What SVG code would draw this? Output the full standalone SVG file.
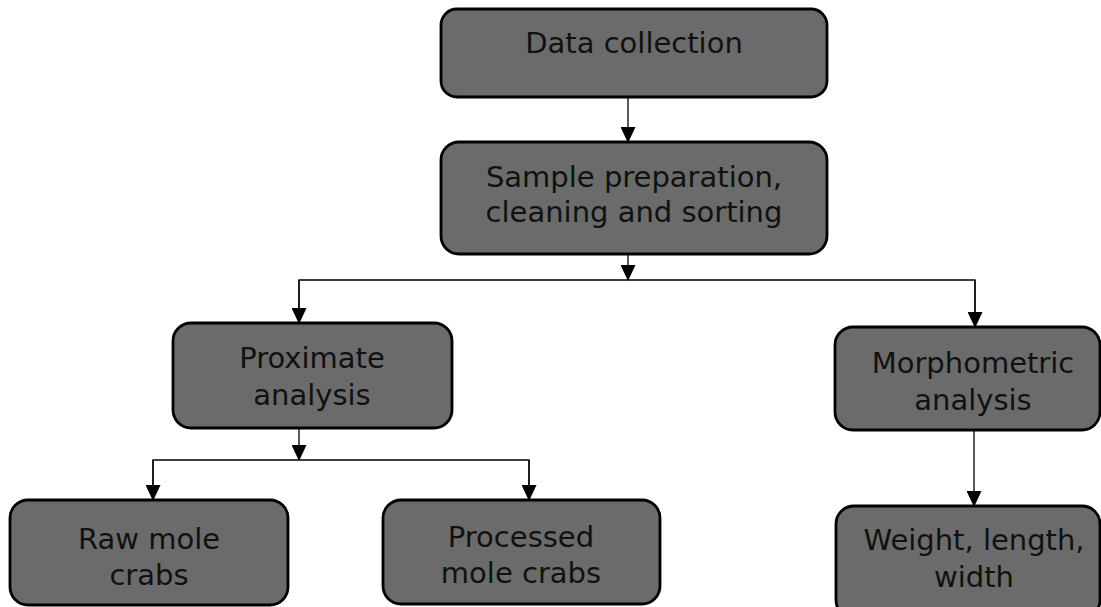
<svg xmlns="http://www.w3.org/2000/svg" width="1101" height="607" viewBox="0 0 1101 607">
<style>
.box{fill:#6b6b6b;stroke:#000;stroke-width:2.8}
.lbl{font-family:"DejaVu Sans",Verdana,sans-serif;font-size:29px;fill:#111;text-anchor:middle}
.con{fill:none;stroke:#000;stroke-width:1.3}
</style>
<defs>
<marker id="ah" markerUnits="userSpaceOnUse" markerWidth="16" markerHeight="15" refX="15" refY="7.5" orient="auto" viewBox="0 0 16 15">
<path d="M0,0 L16,7.5 L0,15 Z" fill="#000"/>
</marker>
</defs>
<rect width="1101" height="607" fill="#fff"/>
<g id="connectors">
<line class="con" x1="628" y1="97" x2="628" y2="142" marker-end="url(#ah)"/>
<line class="con" x1="628" y1="255" x2="628" y2="280" marker-end="url(#ah)"/>
<polyline class="con" points="299,323 299,280 975,280 975,327"/>
<line class="con" x1="299" y1="280" x2="299" y2="323" marker-end="url(#ah)"/>
<line class="con" x1="975" y1="280" x2="975" y2="327" marker-end="url(#ah)"/>
<line class="con" x1="299" y1="429" x2="299" y2="460" marker-end="url(#ah)"/>
<polyline class="con" points="153,500 153,460 529,460 529,500"/>
<line class="con" x1="153" y1="460" x2="153" y2="500" marker-end="url(#ah)"/>
<line class="con" x1="529" y1="460" x2="529" y2="500" marker-end="url(#ah)"/>
<line class="con" x1="974" y1="430" x2="974" y2="506" marker-end="url(#ah)"/>
</g>
<g id="data-collection">
<rect class="box" x="441" y="9" width="386" height="88" rx="16"/>
<text class="lbl" x="634" y="53">Data collection</text>
</g>
<g id="sample-preparation">
<rect class="box" x="441" y="142" width="386" height="112" rx="18"/>
<text class="lbl" x="634" y="187">Sample preparation,</text>
<text class="lbl" x="634" y="222">cleaning and sorting</text>
</g>
<g id="proximate">
<rect class="box" x="173" y="323" width="279" height="105" rx="18"/>
<text class="lbl" x="312" y="368">Proximate</text>
<text class="lbl" x="312" y="405">analysis</text>
</g>
<g id="morphometric">
<rect class="box" x="835" y="327" width="265" height="103" rx="18"/>
<text class="lbl" x="973" y="373">Morphometric</text>
<text class="lbl" x="973" y="410">analysis</text>
</g>
<g id="raw">
<rect class="box" x="10" y="500" width="278" height="105" rx="18"/>
<text class="lbl" x="149" y="549">Raw mole</text>
<text class="lbl" x="149" y="585">crabs</text>
</g>
<g id="processed">
<rect class="box" x="383" y="500" width="277" height="104" rx="18"/>
<text class="lbl" x="521" y="547">Processed</text>
<text class="lbl" x="521" y="583">mole crabs</text>
</g>
<g id="weight">
<rect class="box" x="836" y="506" width="264" height="112" rx="18"/>
<text class="lbl" x="974" y="550">Weight, length,</text>
<text class="lbl" x="974" y="587">width</text>
</g>
</svg>
